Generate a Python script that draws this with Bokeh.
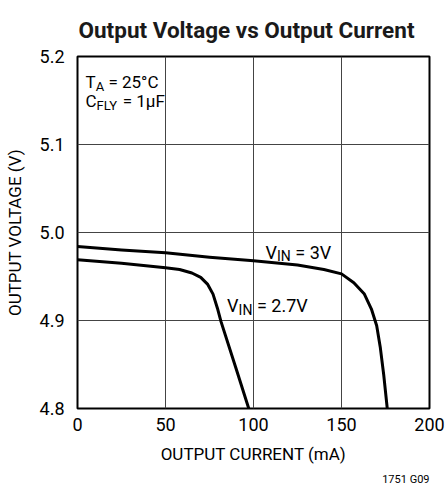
from bokeh.plotting import figure
from bokeh.models import Range1d, FixedTicker, NumeralTickFormatter, Label, Title
from bokeh.embed import file_html
from bokeh.resources import INLINE

# ---- data ----
x_ticks = [0, 50, 100, 150, 200]
y_ticks = [4.8, 4.9, 5.0, 5.1, 5.2]

current_3v = [0, 25, 50, 75, 100, 125, 140, 150, 157, 163, 167, 170, 172, 174, 176]
voltage_3v = [4.984, 4.980, 4.977, 4.972, 4.968, 4.963, 4.958, 4.953, 4.943, 4.930,
              4.913, 4.894, 4.870, 4.838, 4.800]

current_27v = [0, 25, 50, 58, 65, 70, 74, 77, 79.5, 81.5, 90, 97.3]
voltage_27v = [4.969, 4.965, 4.960, 4.958, 4.954, 4.949, 4.941, 4.930, 4.914, 4.899,
               4.846, 4.800]

title_text = "Output Voltage vs Output Current"
footnote_text = "1751 G09"

FONT = "Roboto"
NB = "\u00a0"

p = figure(width=446, height=491, x_range=Range1d(0, 200), y_range=Range1d(4.8, 5.2),
           output_backend="svg", toolbar_location=None,
           min_border_left=77, min_border_right=17, min_border_top=56, min_border_bottom=83)

p.title.text = title_text
p.title.align = "left"
p.title.offset = 1
p.title.vertical_align = "bottom"
p.title.text_font = FONT
p.title.text_font_size = "22.5px"
p.title.text_font_style = "bold"
p.title.text_color = "#1a1a1a"
p.title.standoff = 27

p.outline_line_color = "black"
p.outline_line_width = 2
p.background_fill_color = "white"
p.border_fill_color = "white"

for ax in (p.xaxis, p.yaxis):
    ax.axis_line_color = None
    ax.major_tick_line_color = None
    ax.minor_tick_line_color = None
    ax.major_label_text_font = FONT
    ax.major_label_text_font_size = "18px"
    ax.major_label_text_color = "black"
    ax.axis_label_text_font = FONT
    ax.axis_label_text_font_size = "17px"
    ax.axis_label_text_font_style = "normal"
    ax.axis_label_text_color = "black"

p.xaxis.ticker = FixedTicker(ticks=x_ticks)
p.yaxis.ticker = FixedTicker(ticks=y_ticks)
p.yaxis.formatter = NumeralTickFormatter(format="0.0")
p.xaxis.axis_label = "OUTPUT CURRENT (mA)"
p.yaxis.axis_label = "OUTPUT VOLTAGE (V)"
p.xaxis.major_label_standoff = 3
p.yaxis.major_label_standoff = 7
p.xaxis.axis_label_standoff = 10
p.yaxis.axis_label_standoff = 12

p.xgrid.grid_line_color = "#444444"
p.ygrid.grid_line_color = "#444444"
p.xgrid.grid_line_width = 1
p.ygrid.grid_line_width = 1

p.line(current_3v, voltage_3v, line_color="black", line_width=3, line_join="round")
p.line(current_27v, voltage_27v, line_color="black", line_width=3, line_join="round")

# approximate Roboto advance widths (em)
W = {'V': 0.64, 'I': 0.28, 'N': 0.71, ' ': 0.25, NB: 0.25, '=': 0.55, '.': 0.26,
     'T': 0.61, 'A': 0.65, 'C': 0.65, 'F': 0.55, 'L': 0.54, 'Y': 0.60, 'µ': 0.57,
     '°': 0.38}
for d in "0123456789":
    W[d] = 0.56


def text_width(s, size):
    return sum(W.get(ch, 0.56) for ch in s) * size


def rich(x, y, parts, extra=0):
    # white backing box for the whole line, then the pieces on top
    total = "".join(t for t, _, _ in parts) + NB * extra
    p.add_layout(Label(x=x, y=y, text=total, text_font=FONT,
                       text_font_size=f"{parts[0][1]}px", text_alpha=0,
                       text_baseline="alphabetic", text_align="left",
                       background_fill_color="white", padding=4))
    off = 0.0
    for txt, size, dy in parts:
        p.add_layout(Label(x=x, y=y, x_offset=off, y_offset=dy, text=txt,
                           text_font=FONT, text_font_size=f"{size}px",
                           text_color="black", text_baseline="alphabetic",
                           text_align="left"))
        off += text_width(txt, size)


rich(4.5, 5.1708, [("T", 17, 0), ("A", 13, -4), (NB + "=" + NB + "25°C", 17, 0)], extra=3)
rich(4.5, 5.1494, [("C", 17, 0), ("FLY", 13, -4), (NB + "=" + NB + "1µF", 17, 0)], extra=2)
rich(106.8, 4.9776, [("V", 18, 0), ("IN", 14, -4), (NB + "=" + NB + "3V", 18, 0)])
rich(85.0, 4.9167, [("V", 18, 0), ("IN", 14, -4), (NB + "=" + NB + "2.7V", 18, 0)])

p.add_layout(Title(text=footnote_text, align="right", text_font=FONT, text_font_size="11px",
                   text_font_style="normal", text_color="black", standoff=9), "below")

open("out.html", "w").write(file_html(p, INLINE))
